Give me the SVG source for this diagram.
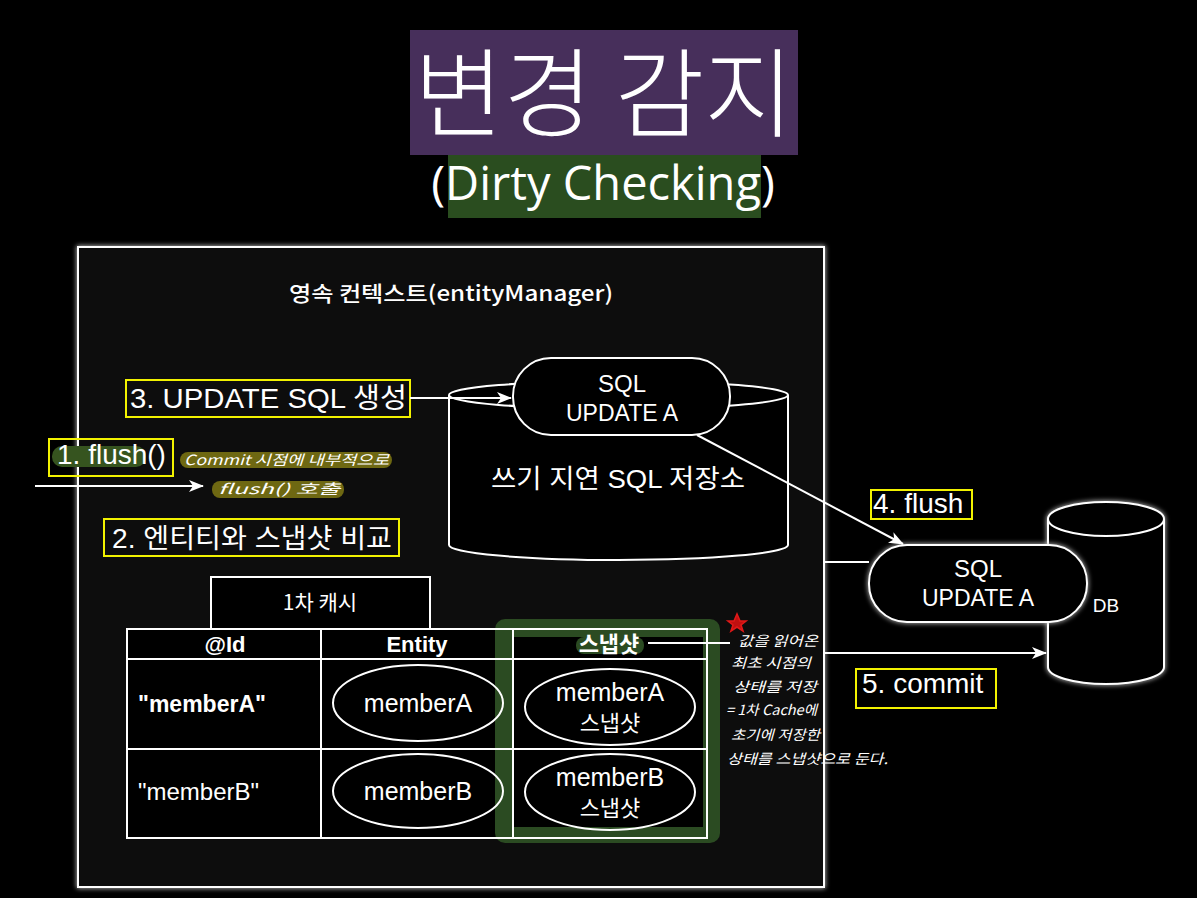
<svg xmlns="http://www.w3.org/2000/svg" width="1197" height="898" viewBox="0 0 1197 898">
<defs>
<style>
.t{font-family:"Liberation Sans","Noto Sans CJK KR",sans-serif;fill:#fff}
.k{font-family:"Noto Sans CJK KR","Liberation Sans",sans-serif;fill:#fff}
.hw{font-family:"Noto Sans CJK KR","Liberation Sans",sans-serif;fill:#fff;font-size:14px;font-style:italic}
.ln{stroke:#fff;stroke-width:2;fill:none}
.shape{stroke:#fff;stroke-width:2;fill:#000}
.yb{stroke:#f2f200;stroke-width:2;fill:none}
.arr{stroke:#fff;stroke-width:2;fill:none;marker-end:url(#ah)}
</style>
<marker id="ah" markerWidth="16" markerHeight="12" refX="14" refY="6" orient="auto" markerUnits="userSpaceOnUse">
<path d="M0,0 L15,6 L0,12 L4,6 Z" fill="#fff"/>
</marker>
<filter id="glow" x="-10%" y="-10%" width="120%" height="120%">
<feGaussianBlur in="SourceGraphic" stdDeviation="2.5" result="b"/>
<feMerge><feMergeNode in="b"/><feMergeNode in="SourceGraphic"/></feMerge>
</filter>
</defs>
<rect x="0" y="0" width="1197" height="898" fill="#000"/>

<g id="title">
<rect x="410" y="30" width="388" height="125" fill="#472f5b"/>
<rect x="448" y="155" width="313" height="63" fill="#2a4d1f"/>
<text class="k" x="604" y="129" font-size="97" font-weight="300" text-anchor="middle" textLength="380" lengthAdjust="spacingAndGlyphs">변경 감지</text>
<text x="603" y="200" font-family="'Open Sans','Noto Sans',sans-serif" font-size="47" fill="#fff" text-anchor="middle">(Dirty Checking)</text>
</g>

<g id="persistence-context">
<rect x="78" y="247" width="746" height="640" fill="#0e0e0e" stroke="#fff" stroke-width="2" filter="url(#glow)"/>
<text class="k" x="451" y="301" font-size="21" font-weight="500" text-anchor="middle" textLength="324" lengthAdjust="spacingAndGlyphs">영속 컨텍스트(entityManager)</text>
</g>

<g id="write-behind-store">
<path class="shape" d="M449,395 A169.5,14 0 0 1 788,395 L788,545 A169.5,15 0 0 1 449,545 Z"/>
<path class="ln" d="M449,395 A169.5,14 0 0 0 788,395"/>
<text class="t" x="618" y="488" font-size="26" text-anchor="middle" textLength="254" lengthAdjust="spacingAndGlyphs">쓰기 지연 SQL 저장소</text>
</g>

<g id="sql-pill-1">
<rect class="shape" x="513" y="358" width="217" height="77" rx="38" ry="38"/>
<text class="t" x="622" y="392" font-size="24" text-anchor="middle">SQL</text>
<text class="t" x="622" y="421" font-size="23" text-anchor="middle">UPDATE A</text>
</g>

<g id="db" filter="url(#glow)">
<path class="shape" d="M1048,519 A58,17 0 0 1 1164,519 L1164,667 A58,17 0 0 1 1048,667 Z"/>
<path class="ln" d="M1048,519 A58,17 0 0 0 1164,519"/>
</g>
<text class="t" x="1106" y="612" font-size="19" text-anchor="middle">DB</text>

<g id="sql-pill-2">
<rect class="shape" x="869" y="545" width="218" height="77" rx="38" ry="38" filter="url(#glow)"/>
<text class="t" x="978" y="577" font-size="24" text-anchor="middle">SQL</text>
<text class="t" x="978" y="606" font-size="23" text-anchor="middle">UPDATE A</text>
</g>

<g id="label-3">
<rect class="yb" x="126" y="380" width="284" height="37"/>
<text class="t" x="130" y="408" font-size="28" textLength="277" lengthAdjust="spacingAndGlyphs">3. UPDATE SQL 생성</text>
</g>

<g id="label-1">
<rect x="52" y="446" width="94" height="21" rx="10" fill="#36541f"/>
<rect class="yb" x="49" y="439" width="124" height="37"/>
<text class="t" x="57" y="464" font-size="28">1. flush()</text>
</g>

<g id="note-flush">
<rect x="180" y="452" width="212" height="16" rx="8" fill="#6e6812"/>
<text class="hw" x="184" y="465" textLength="205" lengthAdjust="spacingAndGlyphs">Commit 시점에 내부적으로</text>
<rect x="212" y="481" width="132" height="17" rx="8" fill="#6e6812"/>
<text class="hw" x="218" y="494" textLength="122" lengthAdjust="spacingAndGlyphs">flush() 호출</text>
</g>

<g id="label-2">
<rect class="yb" x="104" y="519" width="295" height="37"/>
<text class="t" x="112" y="548" font-size="27" textLength="280" lengthAdjust="spacingAndGlyphs">2. 엔티티와 스냅샷 비교</text>
</g>

<g id="label-4">
<rect class="yb" x="871" y="490" width="101" height="29"/>
<text class="t" x="873" y="513" font-size="28">4. flush</text>
</g>

<g id="label-5">
<rect class="yb" x="856" y="669" width="140" height="39"/>
<text class="t" x="862" y="693" font-size="28">5. commit</text>
</g>

<g id="first-level-cache">
<rect class="shape" x="211" y="577" width="219" height="52"/>
<text class="k" x="320" y="610" font-size="21" text-anchor="middle">1차 캐시</text>
<rect x="127" y="629" width="580" height="209" fill="#000"/>
<rect x="495" y="619" width="225" height="224" rx="10" fill="#2b4b22"/>
<rect x="514" y="637" width="189" height="190" fill="#000"/>
<rect x="576" y="637" width="68" height="17" rx="8" fill="#2b4b22"/>
<rect class="ln" x="127" y="629" width="580" height="209"/>
<line class="ln" x1="321" y1="629" x2="321" y2="838"/>
<line class="ln" x1="513" y1="629" x2="513" y2="838"/>
<line class="ln" x1="127" y1="659" x2="707" y2="659"/>
<line class="ln" x1="127" y1="749" x2="707" y2="749"/>
<text class="t" x="225" y="652" font-size="22" font-weight="bold" text-anchor="middle">@Id</text>
<text class="t" x="417" y="652" font-size="22" font-weight="bold" text-anchor="middle">Entity</text>
<text class="k" x="609" y="652" font-size="22" font-weight="bold" text-anchor="middle">스냅샷</text>
<text class="t" x="138" y="712" font-size="23" font-weight="bold">"memberA"</text>
<text class="t" x="138" y="800" font-size="24">"memberB"</text>
<ellipse class="ln" cx="418" cy="703" rx="85" ry="38"/>
<ellipse class="ln" cx="418" cy="791" rx="85" ry="37"/>
<text class="t" x="418" y="712" font-size="25" text-anchor="middle">memberA</text>
<text class="t" x="418" y="800" font-size="25" text-anchor="middle">memberB</text>
<ellipse class="ln" cx="610" cy="707" rx="85" ry="38"/>
<ellipse class="ln" cx="610" cy="792" rx="85" ry="38"/>
<text class="t" x="610" y="701" font-size="25" text-anchor="middle">memberA</text>
<text class="k" x="610" y="731" font-size="22" text-anchor="middle">스냅샷</text>
<text class="t" x="610" y="786" font-size="25" text-anchor="middle">memberB</text>
<text class="k" x="610" y="816" font-size="22" text-anchor="middle">스냅샷</text>
</g>

<g id="note-snapshot">
<path d="M737,614 L740,621 L746,621 L741,625 L743,631 L737,627 L731,631 L733,625 L728,621 L734,621 Z" fill="#c01010" stroke="#e01818" stroke-width="1.6"/>
<text class="hw" x="738" y="646" font-size="15" textLength="80" lengthAdjust="spacingAndGlyphs">값을 읽어온</text>
<text class="hw" x="731" y="668" font-size="15" textLength="80" lengthAdjust="spacingAndGlyphs">최초 시점의</text>
<text class="hw" x="733" y="692" font-size="15" textLength="84" lengthAdjust="spacingAndGlyphs">상태를 저장</text>
<text class="hw" x="726" y="715" font-size="14" textLength="91" lengthAdjust="spacingAndGlyphs">= 1차 Cache에</text>
<text class="hw" x="731" y="740" font-size="15" textLength="89" lengthAdjust="spacingAndGlyphs">초기에 저장한</text>
<text class="hw" x="727" y="764" font-size="15" textLength="161" lengthAdjust="spacingAndGlyphs">상태를 스냅샷으로 둔다.</text>
</g>

<g id="connectors">
<line class="arr" x1="35" y1="486" x2="203" y2="486"/>
<line class="arr" x1="410" y1="398" x2="511" y2="398"/>
<line class="arr" x1="697" y1="435" x2="903" y2="544"/>
<line class="arr" x1="824" y1="653" x2="1046" y2="653"/>
<line class="ln" x1="648" y1="643" x2="730" y2="643"/>
<line class="ln" x1="824" y1="562" x2="869" y2="562"/>
</g>
</svg>
